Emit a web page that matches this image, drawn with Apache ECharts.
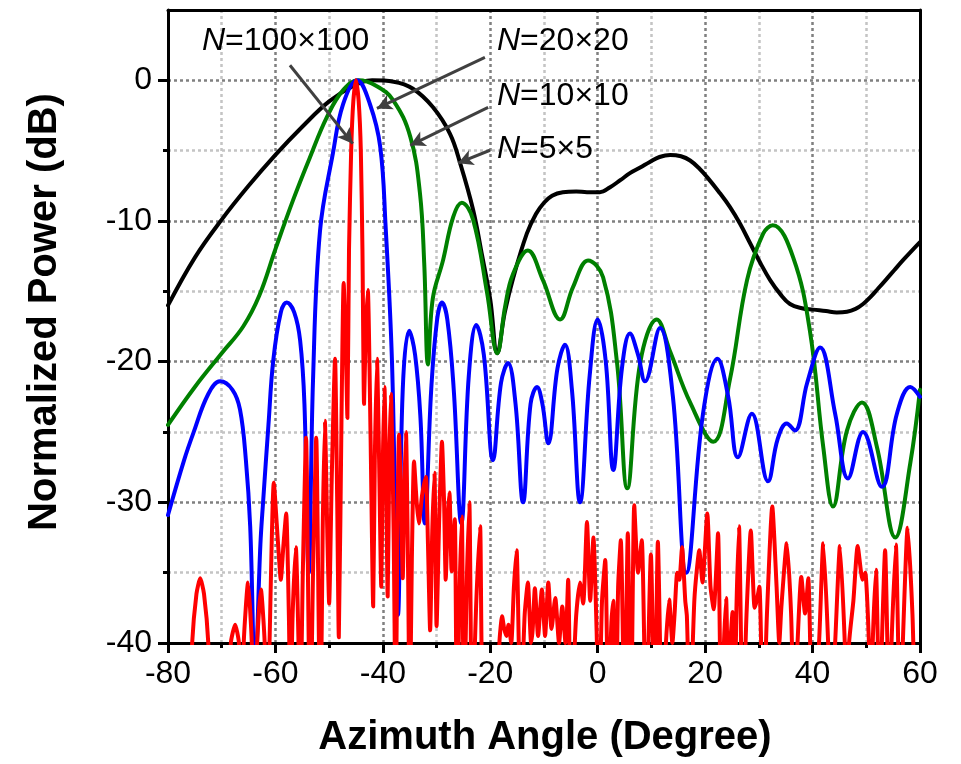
<!DOCTYPE html>
<html><head><meta charset="utf-8">
<script src="https://cdn.jsdelivr.net/npm/echarts@6/dist/echarts.min.js"></script>
<style>html,body{margin:0;padding:0;background:#fff}#c{width:961px;height:764px}</style>
</head><body><div id="c"></div>
<script>
// ---- tick labels ----
const xTickValues = [-80,-60,-40,-20,0,20,40,60];
const yTickValues = [-40,-30,-20,-10,0];
const yMinorTicks = [-35,-25,-15,-5];

// ---- series (angle in degree, normalized power in dB) ----
const n5x5 = [[-80,-16],[-75,-12.6],[-70,-9.9],[-65,-7.5],[-60,-5.3],[-55,-3.3],[-50,-1.5],[-45.5,-0.4],[-42,0],[-38,-0.1],[-34.4,-0.6],[-30.7,-1.9],[-27.5,-3.8],[-25.6,-5.9],[-23.2,-9.2],[-21.5,-12.5],[-20,-15.6],[-18.7,-19.4],[-17.3,-16.5],[-15.7,-14],[-13.2,-10.9],[-11.5,-9.5],[-10,-8.7],[-8.5,-8.2],[-6.5,-7.95],[-4,-7.9],[-2,-7.95],[0.4,-7.95],[2.3,-7.6],[4.2,-7.1],[6,-6.6],[7.9,-6.2],[9.7,-5.8],[11.5,-5.45],[13.5,-5.3],[15.5,-5.4],[17.2,-5.7],[19,-6.3],[20.4,-6.9],[22.5,-7.9],[24.6,-9.0],[26.5,-10.2],[28.4,-11.6],[30.3,-13],[32.1,-14.2],[34,-15.2],[35.8,-15.9],[38,-16.2],[40.1,-16.3],[42.5,-16.4],[44.5,-16.5],[46.4,-16.45],[48,-16.25],[49.4,-15.9],[50.8,-15.4],[52.2,-14.8],[53.6,-14.2],[55.2,-13.5],[56.8,-12.8],[58.5,-12.1],[60,-11.5]];

const n10x10 = [[-80,-24.5],[-75,-21.8],[-70,-19.4],[-66,-17.5],[-63,-15.3],[-60,-12],[-56.7,-8.5],[-53.6,-5.5],[-50.4,-2.6],[-47.4,-0.7],[-44.5,0],[-41.2,-0.4],[-38.1,-1.4],[-34.9,-4.0],[-33.1,-8.0],[-32.3,-13],[-31.6,-20.2],[-30.7,-15.5],[-28.8,-12.8],[-26.9,-9.7],[-25.3,-8.7],[-23.2,-9.9],[-20.6,-15.1],[-18.7,-19.4],[-17.2,-16],[-15.8,-13.8],[-13,-12.1],[-10.2,-14.2],[-7,-17],[-4.6,-14.7],[-1.8,-12.8],[1.0,-14],[3.6,-20.1],[5.5,-29],[7.9,-20.1],[11,-17],[13.5,-19.3],[17.2,-22.9],[21.5,-25.7],[24.6,-21.3],[27.8,-14.2],[30.8,-10.9],[32.6,-10.3],[36.4,-12.6],[39.5,-17.8],[42,-26.1],[43.8,-30.3],[46.4,-24.9],[49.2,-22.9],[52,-26.1],[55.4,-32.5],[58.2,-27.2],[60,-22]];

const n20x20 = [[-80,-30.9],[-77,-27],[-75.3,-25.1],[-72.5,-22.3],[-70.3,-21.4],[-68,-22],[-66.6,-23.4],[-65.5,-27],[-64.7,-31.7],[-63.8,-42],[-62.8,-33],[-62.3,-30],[-61.3,-24.5],[-60.4,-19.9],[-59,-16.5],[-57.9,-15.8],[-56.5,-16.5],[-55.4,-18.5],[-54.6,-23],[-53.8,-35],[-53,-21.3],[-51.7,-10.7],[-49.3,-5.2],[-47.4,-1.7],[-44.8,0],[-42.4,-1.7],[-40.5,-4.7],[-39.5,-10.3],[-38.3,-20],[-37.2,-38],[-36.3,-22],[-35.1,-17.8],[-34,-19.5],[-33,-24],[-32.2,-31.5],[-31,-22],[-29.9,-17],[-29,-15.8],[-28,-17],[-26.8,-22],[-25.4,-31.5],[-24,-21],[-22.6,-17.4],[-21.2,-19.5],[-19.5,-27],[-18,-21.5],[-16.7,-20.1],[-15.3,-23],[-13.9,-30],[-12.5,-23],[-11.3,-21.8],[-10.3,-23],[-9.2,-25.8],[-7.5,-20.5],[-6.1,-18.8],[-4.8,-22],[-3.3,-30],[-1.5,-21],[0,-17],[1.5,-20],[2.9,-27.7],[4.5,-20.5],[6.0,-18],[7.5,-19.5],[8.8,-21.4],[11.6,-17.6],[14,-22.5],[16.5,-35],[19.6,-23.7],[22.3,-19.8],[24.3,-22.5],[26.1,-26.8],[28.7,-23.7],[31.7,-28.5],[33.5,-25.5],[35.2,-24.4],[36.7,-24.9],[39,-21.5],[41.4,-19],[44.2,-23.7],[46.6,-28.3],[49.4,-25],[52.9,-28.9],[55.7,-23.7],[58.2,-21.8],[60,-22.5]];

const n100x100 = [[-80,-50],[-76.2,-48],[-75.5,-40],[-74.7,-36.5],[-74.0,-35.4],[-73.3,-36.5],[-72.5,-40],[-71.9,-48],
[-68.8,-48],[-68.3,-40],[-67.5,-38.7],[-66.8,-40],[-66.3,-48],
[-65.9,-40],[-65.1,-35.7],[-64.4,-40],[-63.9,-48],
[-63.4,-40],[-62.7,-36.2],[-62,-40],[-61.6,-48],
[-61.1,-40],[-60.3,-28.6],[-59.5,-33],[-59.0,-35.5],[-58.5,-33],[-58.0,-30.8],[-57.5,-38],[-57.2,-45],[-56.8,-38],[-56.2,-33.2],[-55.7,-40],[-55.4,-46],
[-54.9,-35],[-54.3,-25.4],[-53.8,-40],[-53.5,-46],[-53.0,-35],[-52.4,-25.4],[-51.9,-40],[-51.6,-46],[-51.2,-32],[-50.8,-24.2],[-50.3,-33],[-50.0,-37.2],[-49.5,-28],[-48.9,-19.8],[-48.5,-30],[-48.2,-39.6],[-47.7,-24],[-47.3,-14.4],[-46.9,-19],[-46.6,-24],[-46.3,-12],[-45.9,-5],[-45.5,-1.5],[-45.0,0],[-44.5,-1.5],[-44.1,-5],[-43.8,-12],[-43.5,-23],[-43.2,-18],[-42.8,-14.9],[-42.3,-25],[-41.8,-37.4],[-41.5,-27],[-41.1,-19.8],[-40.7,-27],[-40.3,-36],[-40.0,-27],[-39.7,-21.8],[-39.4,-28],[-39.1,-36.7],[-38.8,-27],[-38.5,-22.3],[-38.0,-32],[-37.6,-46],[-37.3,-32],[-37.0,-25.2],[-36.6,-30],[-36.3,-35.4],[-36.0,-29],[-35.7,-25],[-35.3,-35],[-35.0,-46],[-34.6,-34],[-34.2,-27.1],[-33.7,-30],[-33.3,-31.5],[-32.7,-29.5],[-32.0,-28.2],[-31.6,-33],[-31.2,-39.1],[-30.8,-32],[-30.4,-27.9],[-30.0,-38.8],[-29.5,-31],[-29.0,-25.7],[-28.6,-30],[-28.3,-35.5],[-27.9,-31],[-27.6,-29.3],[-27.2,-34.9],[-26.9,-33],[-26.6,-31.2],[-26.2,-46],[-25.7,-36],[-25.3,-31],[-24.9,-46],[-24.4,-36],[-23.9,-30],[-23.4,-46],[-22.6,-37],[-21.9,-31.7],[-21.3,-46],[-19,-50],
[-18.6,-48],[-18.3,-40],[-17.8,-38.1],[-17.4,-39],[-17.0,-39.5],[-16.6,-38.7],[-16.1,-40],[-15.6,-36],[-15.1,-33.4],[-14.7,-40],[-14.4,-46],[-13.6,-38],[-13.0,-35.7],[-12.4,-40],[-12.1,-39],[-11.7,-36.1],[-11.1,-39.5],[-10.4,-36.2],[-9.8,-39.5],[-9.2,-35.7],[-8.6,-39],[-7.9,-36.8],[-7.2,-40],[-6.6,-37.4],[-6.0,-40],[-5.5,-35.5],[-5.0,-46],[-4.5,-42],[-4.0,-38],[-3.3,-35.7],[-2.7,-37.2],[-2.0,-31.4],[-1.4,-37],[-0.8,-32.5],[-0.2,-39.2],[0.2,-46],[0.8,-37],[1.4,-34.1],[2.0,-46],[2.5,-39],[2.9,-37],[3.4,-46],[3.8,-36],[4.3,-32.7],[5.0,-46],[5.6,-32.2],[6.2,-46],[6.8,-30.2],[7.5,-35],[8.2,-32.7],[9.0,-46],[9.9,-33.7],[10.6,-46],[11.2,-32.8],[12.0,-46],[12.7,-40],[13.3,-36.9],[13.9,-40],[14.3,-38],[14.8,-35],[15.2,-35.5],[15.7,-33.2],[16.3,-37],[16.6,-38.1],[17.2,-46],[17.7,-40],[18.0,-36.9],[18.4,-35],[18.9,-33.4],[19.5,-35.7],[20.4,-30.8],[21.0,-36],[21.6,-37.6],[22.4,-32.2],[23.0,-46],[23.5,-40],[23.9,-36.8],[24.4,-46],[24.7,-40],[25.1,-37.8],[25.5,-46],[25.8,-38],[26.3,-31.7],[27.0,-46],[27.7,-38],[28.5,-32],[29.2,-37.5],[29.6,-37],[30.1,-36],[30.8,-46],[31.5,-38],[32.5,-30.3],[33.3,-36],[33.8,-40],[34.2,-37.4],[35.2,-32.9],[36.0,-37.9],[36.6,-46],[37.2,-40],[37.9,-35.3],[38.6,-37.9],[39.2,-35.4],[40.0,-46],[41.2,-40],[42.0,-32.9],[42.9,-40],[43.3,-46],[44.2,-40],[45.1,-33.1],[46.0,-40],[46.4,-46],[46.8,-40],[47.6,-37],[48.4,-33.1],[49.3,-35.5],[49.8,-35],[50.5,-40],[50.9,-46],[51.2,-40],[51.8,-34.8],[52.5,-46],[52.9,-40],[53.5,-33.4],[54.3,-46],[54.7,-40],[55.5,-33],[56.3,-46],[56.8,-40],[57.7,-31.8],[58.6,-38],[59.2,-46],[60,-48]];

// annotation arrows (data coordinates: [start],[end])
const arrows = [
  [[-57.3, 1.07], [-45.6, -4.5]],
  [[-21.0, 1.63], [-41.1, -2.0]],
  [[-20.4, -1.92], [-34.9, -4.62]],
  [[-20.05, -4.97], [-26.0, -5.89]]
];
const labels = [
  {n:'100×100', x:202, y:41},
  {n:'20×20', x:497, y:41},
  {n:'10×10', x:497, y:96},
  {n:'5×5', x:497, y:149}
];

const FONT = '"Liberation Sans", Arial, sans-serif';
const chart = echarts.init(document.getElementById('c'), null, {renderer:'canvas'});

function line(name, data, color, smooth, extra) {
  return Object.assign({
    name, type:'line', data, xAxisIndex:0, yAxisIndex:0,
    showSymbol:false, symbol:'none', smooth, clip:true,
    lineStyle:{color, width:4, join:'round', cap:'round'},
    itemStyle:{color}, silent:true
  }, extra || {});
}

const gridLineStyle = {color:['#808080','#c4c4c4'], width:2.5, type:[3,3]};
const hidden = {axisLine:{show:false, onZero:false}, axisTick:{show:false}, axisLabel:{show:false}, splitLine:{show:false}};

chart.setOption({
  animation:false,
  backgroundColor:'#fff',
  grid:{left:168, right:41, top:10, bottom:121, containLabel:false, outerBoundsMode:'none'},
  xAxis:[
    {type:'value', min:-80, max:60, interval:20, position:'bottom',
     axisLine:{show:true, onZero:false, lineStyle:{color:'#000', width:3}},
     axisTick:{show:true, length:10, customValues:xTickValues, lineStyle:{color:'#000', width:3}},
     axisLabel:{fontSize:32, color:'#000', fontFamily:FONT, margin:15, customValues:xTickValues},
     splitLine:{show:false}},
    Object.assign({type:'value', min:-80, max:60, interval:10, position:'bottom'}, hidden,
     {axisTick:{show:true, length:5, lineStyle:{color:'#000', width:3}},
      splitLine:{show:true, lineStyle:gridLineStyle}}),
    Object.assign({type:'value', min:-80, max:60, position:'top'}, hidden,
     {axisLine:{show:true, onZero:false, lineStyle:{color:'#000', width:3}}})
  ],
  yAxis:[
    {type:'value', min:-40, max:5, interval:10, position:'left',
     axisLine:{show:true, onZero:false, lineStyle:{color:'#000', width:3}},
     axisTick:{show:true, length:10, customValues:yTickValues, lineStyle:{color:'#000', width:3}},
     axisLabel:{fontSize:32, color:'#000', fontFamily:FONT, margin:16, customValues:yTickValues},
     splitLine:{show:false}},
    Object.assign({type:'value', min:-40, max:5, interval:5, position:'left'}, hidden,
     {splitLine:{show:true, lineStyle:gridLineStyle}}),
    Object.assign({type:'value', min:-40, max:5, position:'right'}, hidden,
     {axisLine:{show:true, onZero:false, lineStyle:{color:'#000', width:3}}}),
    Object.assign({type:'value', min:-40, max:5, interval:5, position:'left'}, hidden,
     {axisTick:{show:true, length:5, customValues:yMinorTicks, lineStyle:{color:'#000', width:3}}})
  ],
  series:[
    line('N=5×5', n5x5, '#000000', 0.4, {
      markLine:{silent:true, symbol:['none','arrow'], symbolSize:[12,15], precision:4,
        label:{show:false}, emphasis:{disabled:true},
        lineStyle:{color:'#404040', width:3, type:'solid'},
        data: arrows.map(a => [{coord:a[0]}, {coord:a[1]}])}
    }),
    line('N=10×10', n10x10, '#008000', 0.4),
    line('N=20×20', n20x20, '#0000ff', 0.4),
    line('N=100×100', n100x100, '#ff0000', 0.2)
  ],
  graphic:[
    {type:'text', x:545, y:738, silent:true,
     style:{text:'Azimuth Angle (Degree)', font:'bold 40px ' + FONT, fill:'#000', align:'center', verticalAlign:'middle'}},
    {type:'text', x:45, y:312, rotation:Math.PI/2, silent:true,
     style:{text:'Normalized Power (dB)', font:'bold 40px ' + FONT, fill:'#000', align:'center', verticalAlign:'middle'}}
  ].concat(labels.map(l => ({
    type:'text', x:l.x, y:l.y, silent:true, z:100,
    style:{text:'{i|N}{r|=' + l.n + '}', align:'left', verticalAlign:'middle', fill:'#000',
      rich:{i:{fontStyle:'italic', fontSize:32, fontFamily:FONT, fill:'#000'},
            r:{fontSize:32, fontFamily:FONT, fill:'#000'}}}
  })))
});
</script></body></html>
